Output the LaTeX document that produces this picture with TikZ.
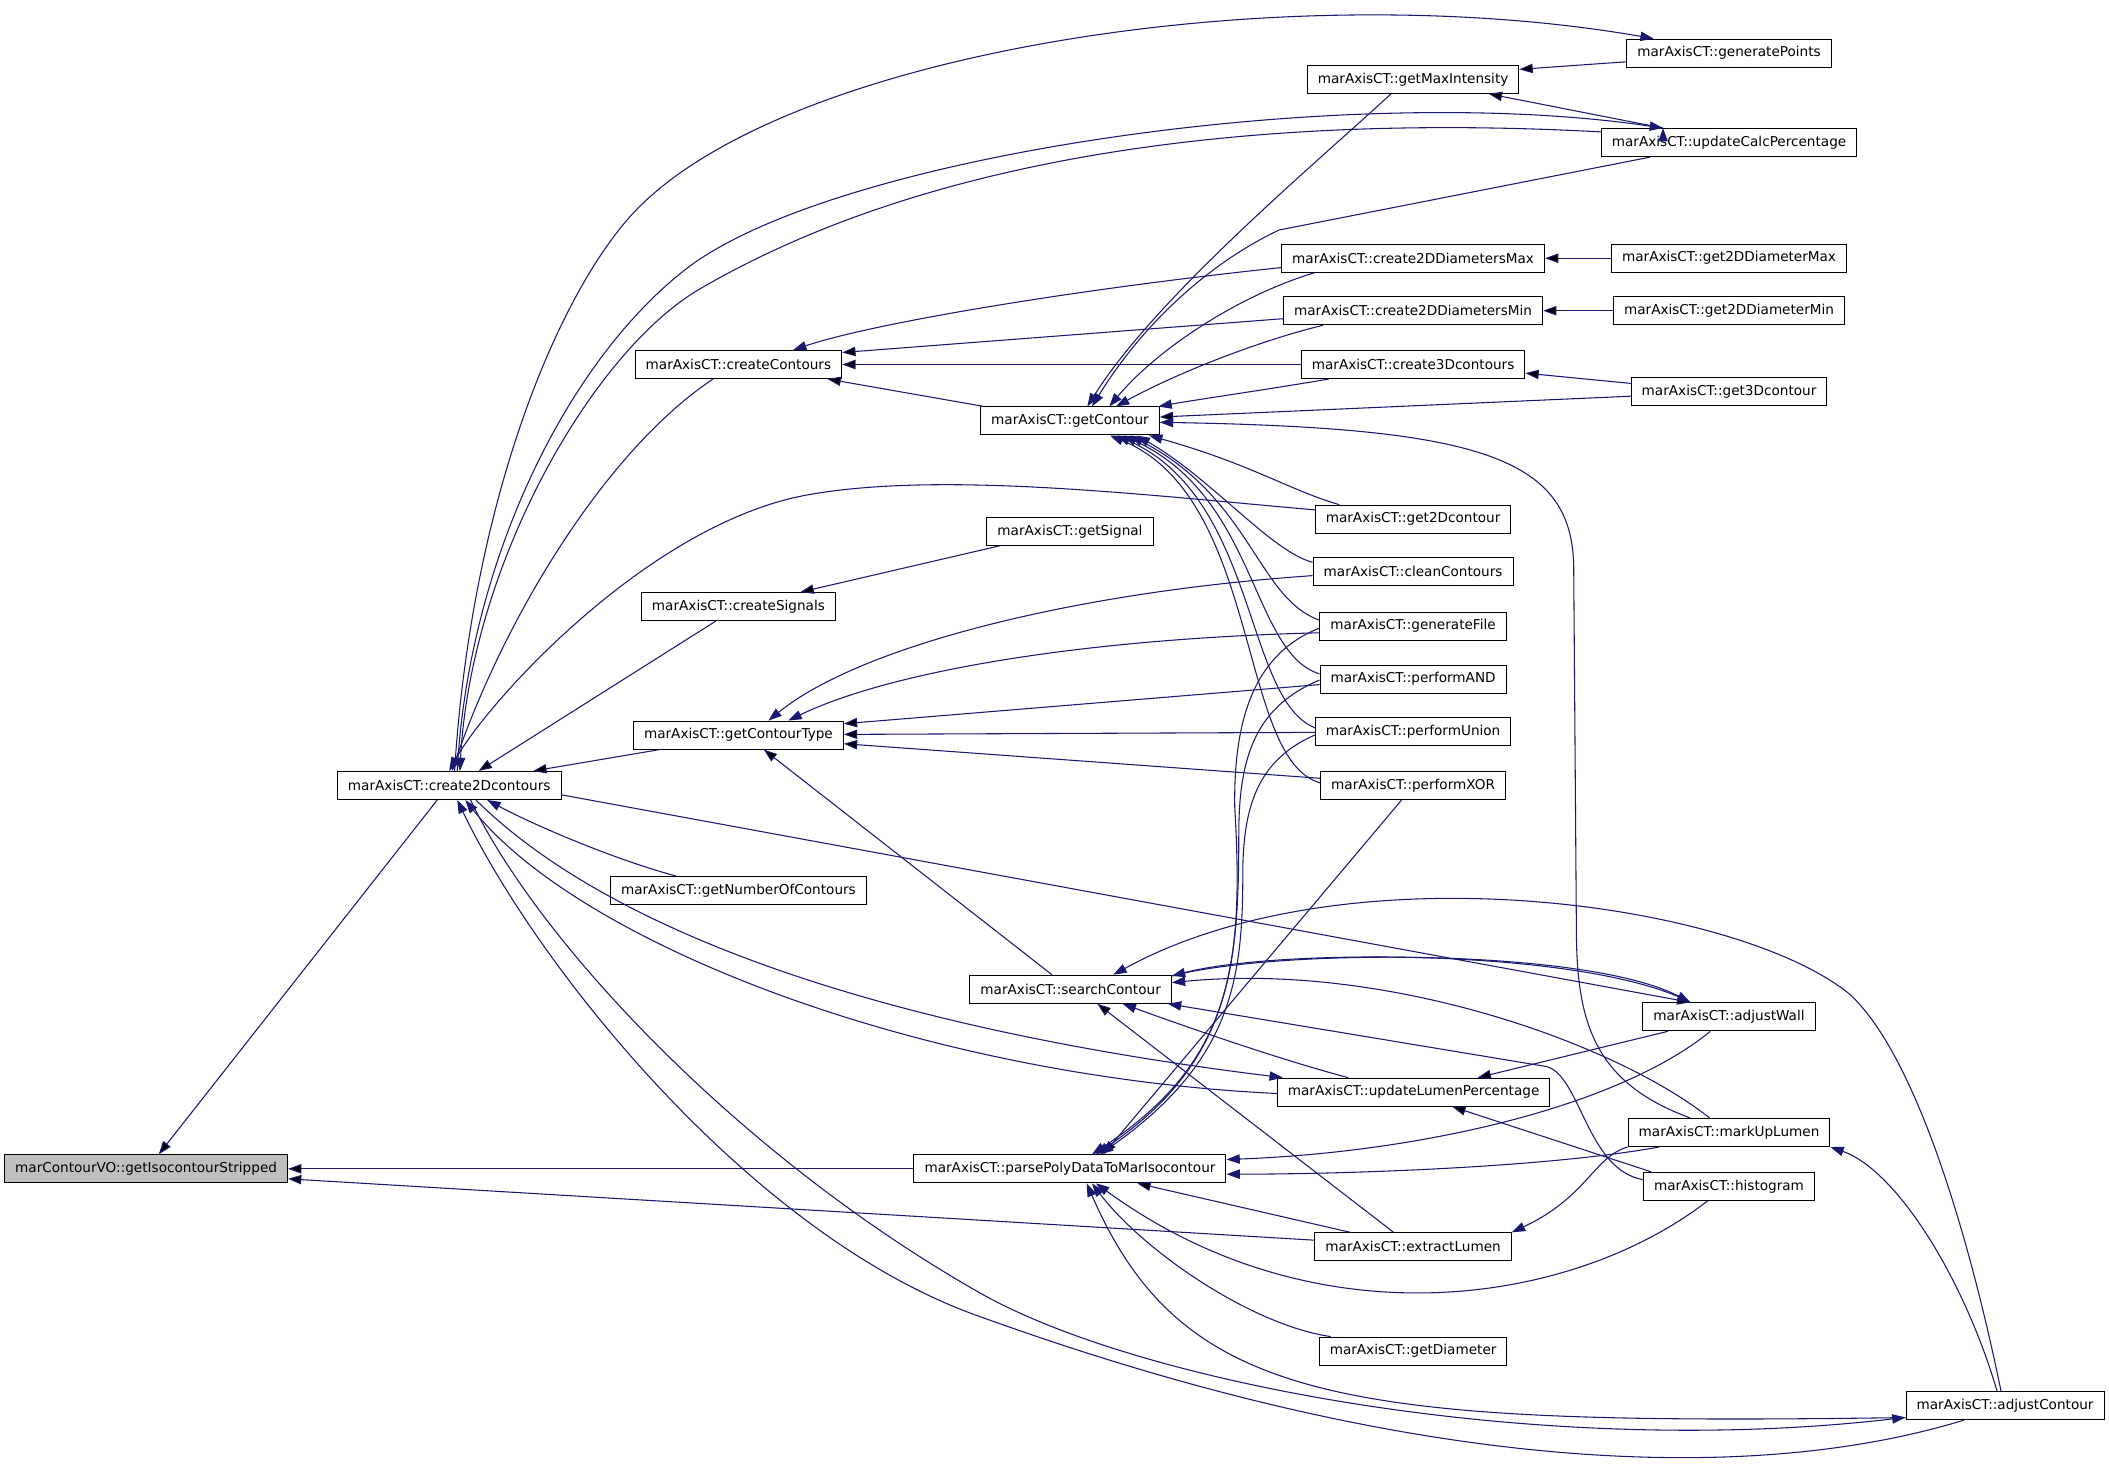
\documentclass[tikz,border=0pt]{standalone}
\usepackage{fontspec}
\setmainfont{DejaVu Sans}
\usetikzlibrary{arrows.meta}
\definecolor{edgeblue}{HTML}{191970}
\definecolor{rootgray}{HTML}{BFBFBF}

\begin{document}
\begin{tikzpicture}[x=1.00875pt,y=-1.00875pt,
   fn/.style={draw=black,fill=white,line width=0.75pt,minimum height=21pt,
              inner xsep=7.9pt,inner ysep=0pt,font=\fontsize{10.2}{12}\selectfont},
   root/.style={fn,fill=rootgray},
   call/.style={draw=edgeblue,line width=0.8pt,-{Triangle[length=10pt,width=7pt]}}]
   \useasboundingbox (0,0) rectangle (1568,1094);

   % functions
   \node[root] (iso)  at (108.6,869)  {marContourVO::getIsocontourStripped};
   \node[fn]   (c2d)  at (334,584)    {marAxisCT::create2Dcontours};
   \node[fn]   (cco)  at (549,271)    {marAxisCT::createContours};
   \node[fn]   (csg)  at (549,451)    {marAxisCT::createSignals};
   \node[fn]   (gct)  at (549,546.5)  {marAxisCT::getContourType};
   \node[fn]   (gnc)  at (549,662)    {marAxisCT::getNumberOfContours};
   \node[fn]   (gco)  at (795.5,313)  {marAxisCT::getContour};
   \node[fn]   (gsg)  at (795.5,395)  {marAxisCT::getSignal};
   \node[fn]   (sco)  at (796,735.5)  {marAxisCT::searchContour};
   \node[fn]   (ppd)  at (795.5,869)  {marAxisCT::parsePolyDataToMarIsocontour};
   \node[fn]   (gmi)  at (1050.6,59)  {marAxisCT::getMaxIntensity};
   \node[fn]   (cdx)  at (1050.6,192) {marAxisCT::create2DDiametersMax};
   \node[fn]   (cdn)  at (1050.6,231) {marAxisCT::create2DDiametersMin};
   \node[fn]   (c3d)  at (1050.6,271) {marAxisCT::create3Dcontours};
   \node[fn]   (g2d)  at (1050.6,386) {marAxisCT::get2Dcontour};
   \node[fn]   (ccl)  at (1050.6,425) {marAxisCT::cleanContours};
   \node[fn]   (gfl)  at (1050.6,465.5) {marAxisCT::generateFile};
   \node[fn]   (pand) at (1050.6,505) {marAxisCT::performAND};
   \node[fn]   (puni) at (1050.6,544) {marAxisCT::performUnion};
   \node[fn]   (pxor) at (1050.6,584) {marAxisCT::performXOR};
   \node[fn]   (ulp)  at (1051,812)   {marAxisCT::updateLumenPercentage};
   \node[fn]   (exl)  at (1050.6,927) {marAxisCT::extractLumen};
   \node[fn]   (gdi)  at (1050.6,1004.5) {marAxisCT::getDiameter};
   \node[fn]   (gpt)  at (1285.5,39.5) {marAxisCT::generatePoints};
   \node[fn]   (ucp)  at (1285.5,106) {marAxisCT::updateCalcPercentage};
   \node[fn]   (gdx)  at (1285.5,192) {marAxisCT::get2DDiameterMax};
   \node[fn]   (gdn)  at (1285.5,231) {marAxisCT::get2DDiameterMin};
   \node[fn]   (g3d)  at (1285.5,291) {marAxisCT::get3Dcontour};
   \node[fn]   (awl)  at (1285.5,756) {marAxisCT::adjustWall};
   \node[fn]   (mul)  at (1285.5,842) {marAxisCT::markUpLumen};
   \node[fn]   (his)  at (1285.5,882) {marAxisCT::histogram};
   \node[fn]   (acn)  at (1490.7,1045) {marAxisCT::adjustContour};

   % straight calls
   \path[call] ([xshift=-9pt]c2d.south) edge ([xshift=9.5pt]iso.north)
               (ppd.west) edge (iso.east)
               ([yshift=5pt]exl.west) edge ([yshift=-7.5pt]iso.east)
               ([xshift=-17pt]csg.south) edge ([xshift=22pt]c2d.north)
               ([xshift=-59pt]gct.south) edge ([xshift=63pt]c2d.north)
               ([yshift=-6pt]cdn.west) edge ([yshift=9pt]cco.east)
               (c3d.west) edge (cco.east)
               ([xshift=3pt]gco.north west) edge ([xshift=-11pt]cco.south east)
               ([yshift=-3.6pt]g3d.west) edge ([yshift=3pt]gco.east)
               ([yshift=-4pt]pand.west) edge ([yshift=8.5pt]gct.east)
               ([yshift=-0.5pt]puni.west) edge ([yshift=0.5pt]gct.east)
               ([yshift=5.4pt]pxor.west) edge ([yshift=-6.5pt]gct.east)
               ([xshift=-14pt]sco.north) edge ([xshift=19pt]gct.south)
               ([xshift=10pt]gsg.south west) edge ([xshift=46.5pt]csg.north)
               ([yshift=-7pt]c2d.east) edge ([xshift=-29pt]awl.north)
               ([xshift=-14.6pt]exl.north) edge ([xshift=20pt]sco.south)
               ([xshift=19pt]awl.south west) edge ([xshift=48pt]ulp.north)
               ([xshift=6pt]his.north west) edge ([xshift=29pt]ulp.south)
               ([xshift=27pt]exl.north west) edge ([xshift=50.5pt]ppd.south)
               ([xshift=-8.6pt]pxor.south) edge ([xshift=25pt]ppd.north)
               (gdx.west) edge (cdx.east)
               (gdn.west) edge (cdn.east)
               ([yshift=6pt]g3d.west) edge ([yshift=-6.5pt]c3d.east)
               ([yshift=-6.5pt]gpt.west) edge ([yshift=7.5pt]gmi.east)
               ([xshift=-49.5pt]ucp.north) edge ([xshift=-23pt]gmi.south east);

   % curved calls
   \draw[call] ([xshift=-19pt]cco.south) .. controls (450,335) and (375,460) .. ([xshift=2pt]c2d.north);
   \draw[call] ([yshift=8pt]ucp.west) .. controls (950,85) and (700,110) .. (520,215)
               .. controls (440,262) and (350,420) .. ([xshift=8pt]c2d.north);
   \draw[call] ([xshift=6pt]c2d.north) .. controls (348,420) and (420,270) .. (510,200)
               .. controls (620,115) and (1000,60) .. ([xshift=-49.5pt]ucp.north);
   \draw[call] ([xshift=4pt]c2d.north) .. controls (350,380) and (410,230) .. (465,165)
               .. controls (570,40) and (950,-20) .. ([xshift=-56.5pt]gpt.north);
   \draw[call] ([yshift=7pt]g2d.west) .. controls (850,368) and (700,350) .. (600,368)
               .. controls (480,390) and (360,525) .. (c2d.north);
   \draw[call] ([yshift=-7pt]cdx.west) .. controls (800,215) and (650,240) .. ([xshift=41pt]cco.north);
   \draw[call] ([xshift=-16.6pt]gmi.south) .. controls (980,120) and (860,220) .. ([xshift=13pt]gco.north);
   \draw[call] ([xshift=-59pt]ucp.south) -- (951,171) .. controls (900,195) and (850,240) .. ([xshift=16.5pt]gco.north);
   \draw[call] ([xshift=25pt]cdx.south west) .. controls (920,220) and (860,260) .. ([xshift=29.5pt]gco.north);
   \draw[call] ([xshift=30pt]cdn.south west) .. controls (930,255) and (870,280) .. ([xshift=34.5pt]gco.north);
   \draw[call] ([xshift=21pt]c3d.south west) .. controls (940,290) and (890,297) .. ([xshift=-1pt]gco.north east);
   \draw[call] ([xshift=-29pt]mul.north) .. controls (1185,805) and (1172,760) .. (1172,690) -- (1170,420)
               .. controls (1168,340) and (1100,318) .. ([yshift=-1pt]gco.east);
   \draw[call] ([xshift=18.5pt]g2d.north west) .. controls (960,365) and (930,345) .. ([xshift=-8pt]gco.south east);
   \draw[call] ([yshift=7pt]ccl.west) .. controls (945,410) and (900,355) .. ([xshift=50pt]gco.south);
   \draw[call] ([yshift=4.5pt]gfl.west) .. controls (935,445) and (930,370) .. ([xshift=45pt]gco.south);
   \draw[call] ([yshift=4pt]pand.west) .. controls (930,485) and (935,370) .. ([xshift=40pt]gco.south);
   \draw[call] ([yshift=3pt]puni.west) .. controls (925,520) and (935,370) .. ([xshift=35pt]gco.south);
   \draw[call] ([yshift=2pt]pxor.west) .. controls (920,565) and (938,370) .. ([xshift=30pt]gco.south);
   \draw[call] ([yshift=-3pt]ccl.west) .. controls (800,440) and (640,480) .. ([xshift=22.5pt]gct.north);
   \draw[call] ([yshift=-5pt]gfl.west) .. controls (800,475) and (660,500) .. ([xshift=37.5pt]gct.north);
   \draw[call] ([xshift=-47pt]gnc.north) .. controls (460,640) and (400,615) .. ([xshift=28.5pt]c2d.south);
   \draw[call] ([xshift=20pt]c2d.south) .. controls (440,680) and (620,760) .. ([xshift=4.5pt]ulp.north west);
   \draw[call] ([yshift=-1pt]ulp.west) .. controls (680,800) and (430,700) .. ([xshift=12pt]c2d.south);
   \draw[call] ([yshift=10pt]sco.east) .. controls (950,705) and (1180,705) .. ([xshift=-29pt]awl.north);
   \draw[call] ([xshift=-29pt]awl.north) .. controls (1180,705) and (950,705) .. ([yshift=10pt]sco.east);
   \draw[call] ([xshift=-14.5pt]mul.north) .. controls (1200,775) and (1030,715) .. ([yshift=5pt]sco.east);
   \draw[call] ([xshift=-3pt]acn.north) .. controls (1460,900) and (1420,780) .. (1375,739)
               .. controls (1290,670) and (1000,630) .. ([xshift=32pt]sco.north);
   \draw[call] ([yshift=5pt]his.west) .. controls (1180,870) and (1175,800) .. (1150,793) -- ([xshift=-3pt]sco.south east);
   \draw[call] ([xshift=-49pt]ulp.north) .. controls (960,790) and (900,770) .. ([xshift=39pt]sco.south);
   \draw[call] ([xshift=-14pt]awl.south) .. controls (1200,825) and (1050,857) .. ([yshift=7pt]ppd.east);
   \draw[call] ([xshift=23.5pt]mul.south west) .. controls (1150,868) and (1000,873) .. ([yshift=-4pt]ppd.east);
   \draw[call] (mul.south west) .. controls (1185,860) and (1180,890) .. (exl.north east);
   \draw[call] ([xshift=-6pt]acn.north) .. controls (1460,950) and (1410,870) .. (mul.south east);
   \draw[call] ([xshift=-16pt]his.south) .. controls (1170,970) and (980,1000) .. ([xshift=19.5pt]ppd.south);
   \draw[call] ([xshift=9pt]gdi.north west) .. controls (930,985) and (850,930) .. ([xshift=16.5pt]ppd.south);
   \draw[call] ([yshift=-9pt]acn.west) .. controls (1000,1060) and (880,1045) .. ([xshift=12.5pt]ppd.south);
   \draw[call] ([xshift=16pt]c2d.south) .. controls (400,700) and (550,860) .. (729,961.5)
               .. controls (850,1030) and (1150,1085) .. ([yshift=2pt]acn.south west);
   \draw[call] ([xshift=-30.7pt]acn.south) .. controls (1300,1105) and (1050,1095) .. (729,979)
               .. controls (560,920) and (400,720) .. ([xshift=6pt]c2d.south);
   \draw[call] ([yshift=-1.5pt]gfl.west) .. controls (935,485) and (917,530) .. (918,600)
               .. controls (925,720) and (915,790) .. ([xshift=16.5pt]ppd.north);
   \draw[call] ([yshift=-0.6pt]pand.west) .. controls (935,525) and (921,560) .. (921,620)
               .. controls (921,720) and (915,790) .. ([xshift=19.5pt]ppd.north);
   \draw[call] ([yshift=-2.5pt]puni.west) .. controls (935,565) and (924,600) .. (924,650)
               .. controls (924,730) and (915,790) .. ([xshift=22.5pt]ppd.north);
\end{tikzpicture}
\end{document}
